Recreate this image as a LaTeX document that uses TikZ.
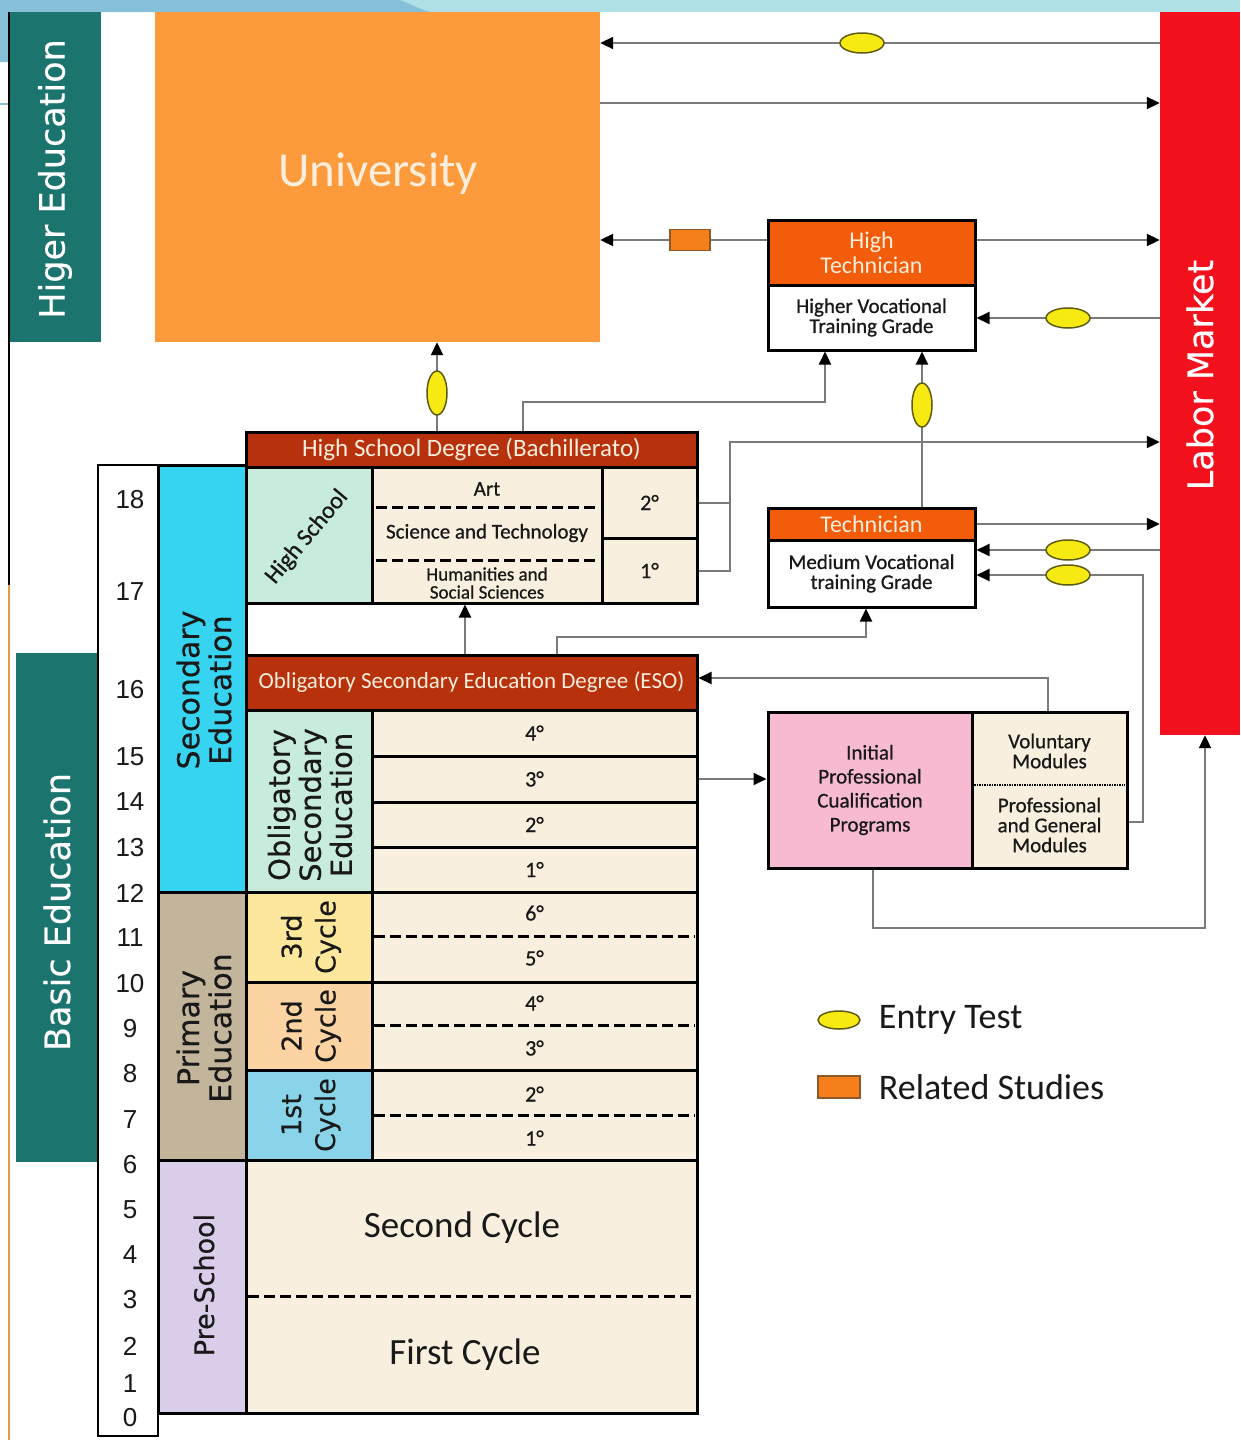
\documentclass[tikz,border=0pt]{standalone}
\usepackage{fontspec}
\setmainfont{Carlito}
\newfontfamily\cellfont[FakeBold=0.8]{Carlito}
\newfontfamily\verdfont[FakeBold=0.4]{DejaVu Sans}
\newfontfamily\agefont{Liberation Sans}
\usetikzlibrary{positioning}
\usetikzlibrary{shapes.geometric}
\usetikzlibrary{arrows.meta}

\definecolor{tealband}{HTML}{1B746D}
\definecolor{uniorange}{HTML}{FD9A3B}
\definecolor{laborred}{HTML}{F4111E}
\definecolor{degreered}{HTML}{B8310D}
\definecolor{techorange}{HTML}{F25C0A}
\definecolor{seccyan}{HTML}{36D4F1}
\definecolor{primtan}{HTML}{C2B59B}
\definecolor{prelilac}{HTML}{DACDEA}
\definecolor{mint}{HTML}{C8ECDC}
\definecolor{cream}{HTML}{F8EFDF}
\definecolor{cycyellow}{HTML}{FDE79C}
\definecolor{cycpeach}{HTML}{FCD3A2}
\definecolor{cycblue}{HTML}{8AD4EA}
\definecolor{ipcppink}{HTML}{F8BAD2}
\definecolor{entryfill}{HTML}{F7EA12}
\definecolor{entryedge}{HTML}{5E5C12}
\definecolor{relfill}{HTML}{F77F1B}
\definecolor{reledge}{HTML}{8A5A2A}
\definecolor{lanegray}{HTML}{7A7A7A}
\definecolor{bandcyan}{HTML}{AEE0E6}
\definecolor{bandblue}{HTML}{86C0D8}
\definecolor{edgeorange}{HTML}{E0A040}
\definecolor{headtext}{HTML}{FBEEDC}

\newcommand{\pxfont}[2]{\fontsize{#1pt}{#2pt}\selectfont}

\tikzset{
	every node/.style = {text=black!90},
	area/.style = {inner sep=0pt},
	box/.style = {area, draw=black, line width=3pt},
	sidetext/.style = {rotate=90, text=white, align=center, font=\verdfont\pxfont{35}{38}},
	coltext/.style = {rotate=90, align=center, font=\verdfont\pxfont{29}{31}},
	headtxt/.style = {text=headtext, align=center, font=\pxfont{24}{25}},
	celltxt/.style = {align=center, font=\cellfont\pxfont{21}{20}},
	grade/.style = {font=\cellfont\pxfont{22}{22}},
	age/.style = {font=\agefont\pxfont{26}{26}},
	conn/.style = {draw=lanegray, line width=2pt, -{Triangle[width=12pt,length=13pt,color=black]}},
	lane/.style = {draw=lanegray, line width=2pt},
	entry/.style = {ellipse, draw=entryedge, line width=1.5pt, fill=entryfill, minimum width=44pt, minimum height=20pt, inner sep=0pt},
	entryup/.style = {entry, minimum width=20pt, minimum height=44pt},
	related/.style = {area, draw=reledge, line width=1.5pt, fill=relfill, minimum width=40pt, minimum height=21pt},
	split/.style = {line width=3pt, dash pattern=on 11pt off 5pt}
}

\begin{document}
\begin{tikzpicture}[x=1pt, y=-1pt]
	\useasboundingbox (0,0) rectangle (1240,1440);
	% slide background
	\fill[white] (0,0) rectangle (1240,1440);
	\fill[bandcyan] (0,0) rectangle (1240,12);
	\fill[bandblue] (0,0) -- (400,0) .. controls (412,5) and (420,9) .. (430,12) -- (10,12) -- (10,62) -- (0,62) -- cycle;
	\draw[bandblue, line width=1.5pt] (0,104) -- (10,104);
	\draw[black, line width=2pt] (9,12) -- (9,585);
	\draw[edgeorange, line width=1.5pt] (9,585) -- (9,1440);

	% side bands
	\node[area, fill=tealband, minimum width=91pt, minimum height=330pt] (higher) at (55.5,177) {};
	\node[sidetext] (higherlbl) at (55,179) {Higer Education};
	\node[area, fill=tealband, minimum width=84pt, minimum height=509pt] (basic) at (58,907.5) {};
	\node[sidetext] (basiclbl) at (57,912) {Basic Education};

	% university and labor market
	\node[area, fill=uniorange, minimum width=445pt, minimum height=330pt] (uni) at (377.5,177) {};
	\node[text=headtext, font=\pxfont{49}{49}] (unilbl) at (378,174) {University};
	\node[area, fill=laborred, minimum width=80pt, minimum height=723pt] (labor) at (1200,373.5) {};
	\node[sidetext] (laborlbl) at (1200,375) {Labor Market};

	% age scale
	\node[box, line width=2.5pt, fill=white, minimum width=60pt, minimum height=971pt] (ages) at (128,950.5) {};
	\node[age] (a18) at (130,500) {18};
	\node[age] (a17) at (130,592) {17};
	\node[age] (a16) at (130,690) {16};
	\node[age] (a15) at (130,757) {15};
	\node[age] (a14) at (130,802) {14};
	\node[age] (a13) at (130,848) {13};
	\node[age] (a12) at (130,893) {12};
	\node[age] (a11) at (130,938) {11};
	\node[age] (a10) at (130,984) {10};
	\node[age] (a9) at (130,1029) {9};
	\node[age] (a8) at (130,1074) {8};
	\node[age] (a7) at (130,1120) {7};
	\node[age] (a6) at (130,1165) {6};
	\node[age] (a5) at (130,1210) {5};
	\node[age] (a4) at (130,1255) {4};
	\node[age] (a3) at (130,1300) {3};
	\node[age] (a2) at (130,1346) {2};
	\node[age] (a1) at (130,1384) {1};
	\node[age] (a0) at (130,1418) {0};

	% stage columns
	\node[box, fill=seccyan, minimum width=88pt, minimum height=427pt] (sec) at (202,678.5) {};
	\node[coltext, font=\verdfont\pxfont{30}{32}] (seclbl) at (204,690) {Secondary\\Education};
	\node[box, fill=primtan, minimum width=88pt, minimum height=268pt] (prim) at (202,1026) {};
	\node[coltext, font=\verdfont\pxfont{30}{32}] (primlbl) at (204,1028) {Primary\\Education};
	\node[box, fill=prelilac, minimum width=88pt, minimum height=253pt] (pre) at (202,1286.5) {};
	\node[coltext, font=\verdfont\pxfont{27}{27}] (prelbl) at (204,1285) {Pre-School};

	% high school
	\node[box, fill=degreered, minimum width=451pt, minimum height=35pt, headtxt, font=\pxfont{25}{25}] (hsdeg) at (471.5,449.5) {High School Degree (Bachillerato)};
	\node[box, fill=mint, minimum width=126pt, minimum height=136pt] (hsmint) at (309,535) {};
	\node[rotate=50, font=\cellfont\pxfont{24}{24}] (hslbl) at (307,537) {High School};
	\node[box, fill=cream, minimum width=230pt, minimum height=136pt] (hstr) at (487,535) {};
	\node[celltxt] (art) at (487,489) {Art};
	\node[celltxt] (scitech) at (487,533) {Science and Technology};
	\node[celltxt, font=\cellfont\pxfont{19}{18}] (humsoc) at (487,583) {Humanities and\\Social Sciences};
	\draw[split] (376,507) -- (598,507);
	\draw[split] (376,560) -- (598,560);
	\node[box, fill=cream, minimum width=95pt, minimum height=71pt, grade] (hs2) at (649.5,502.5) {2°};
	\node[box, fill=cream, minimum width=95pt, minimum height=65pt, grade] (hs1) at (649.5,570.5) {1°};

	% obligatory secondary
	\node[box, fill=degreered, minimum width=451pt, minimum height=55pt, headtxt, font=\pxfont{23}{23}] (esodeg) at (471.5,682.5) {Obligatory Secondary Education Degree (ESO)};
	\node[box, fill=mint, minimum width=126pt, minimum height=182pt] (esomint) at (309,801) {};
	\node[coltext] (esolbl) at (310,805) {Obligatory\\Secondary\\Education};
	\node[box, fill=cream, minimum width=325pt, minimum height=46pt, grade] (eso4) at (534.5,733) {4°};
	\node[box, fill=cream, minimum width=325pt, minimum height=46pt, grade] (eso3) at (534.5,779) {3°};
	\node[box, fill=cream, minimum width=325pt, minimum height=45pt, grade] (eso2) at (534.5,824.5) {2°};
	\node[box, fill=cream, minimum width=325pt, minimum height=45pt, grade] (eso1) at (534.5,869.5) {1°};

	% primary cycles
	\node[box, fill=cycyellow, minimum width=126pt, minimum height=90pt] (cyc3) at (309,937) {};
	\node[coltext, font=\verdfont\pxfont{27}{34}] (cyc3lbl) at (311,937) {3rd\\Cycle};
	\node[box, fill=cream, minimum width=325pt, minimum height=90pt] (gr3) at (534.5,937) {};
	\node[grade] (g6) at (534.5,913) {6°};
	\node[grade] (g5) at (534.5,958) {5°};
	\draw[split] (374,936) -- (695,936);
	\node[box, fill=cycpeach, minimum width=126pt, minimum height=88pt] (cyc2) at (309,1026) {};
	\node[coltext, font=\verdfont\pxfont{27}{34}] (cyc2lbl) at (311,1026) {2nd\\Cycle};
	\node[box, fill=cream, minimum width=325pt, minimum height=88pt] (gr2) at (534.5,1026) {};
	\node[grade] (g4) at (534.5,1003) {4°};
	\node[grade] (g3) at (534.5,1048) {3°};
	\draw[split] (374,1025) -- (695,1025);
	\node[box, fill=cycblue, minimum width=126pt, minimum height=90pt] (cyc1) at (309,1115) {};
	\node[coltext, font=\verdfont\pxfont{27}{34}] (cyc1lbl) at (311,1115) {1st\\Cycle};
	\node[box, fill=cream, minimum width=325pt, minimum height=90pt] (gr1) at (534.5,1115) {};
	\node[grade] (g2) at (534.5,1094) {2°};
	\node[grade] (g1) at (534.5,1138) {1°};
	\draw[split] (374,1115) -- (695,1115);

	% pre-school cycles
	\node[box, fill=cream, minimum width=451pt, minimum height=253pt] (precyc) at (471.5,1286.5) {};
	\node[font=\pxfont{37}{37}] (second) at (462,1228) {Second Cycle};
	\node[font=\pxfont{37}{37}] (first) at (465,1355) {First Cycle};
	\draw[split] (248,1296) -- (695,1296);

	% vocational training
	\node[box, fill=techorange, minimum width=207pt, minimum height=65pt, headtxt] (hthead) at (871.5,252.5) {High\\Technician};
	\node[box, fill=white, minimum width=207pt, minimum height=65pt, celltxt] (htgrade) at (871.5,317.5) {Higher Vocational\\Training Grade};
	\node[box, fill=techorange, minimum width=207pt, minimum height=32pt, headtxt] (techhead) at (871.5,524) {Technician};
	\node[box, fill=white, minimum width=207pt, minimum height=67pt, celltxt] (techgrade) at (871.5,573.5) {Medium Vocational\\training Grade};
	\node[box, fill=ipcppink, minimum width=204pt, minimum height=156pt, celltxt, font=\cellfont\pxfont{21}{24}] (ipcp) at (870,790) {Initial\\Professional\\Cualification\\Programs};
	\node[box, fill=cream, minimum width=155pt, minimum height=156pt] (mods) at (1049.5,790) {};
	\node[celltxt] (volmod) at (1049.5,751) {Voluntary\\Modules};
	\node[celltxt] (profmod) at (1049.5,825) {Professional\\and General\\Modules};
	\draw[densely dotted, line width=1.5pt] (974,785) -- (1125,785);

	% bends and marks
	\coordinate (et1) at (862,43);
	\coordinate (lane2) at (862,103);
	\coordinate (rs1) at (690,240);
	\coordinate (et2) at (1068,318);
	\coordinate (et3) at (437,393);
	\coordinate (bend7a) at (523,402);
	\coordinate (bend7b) at (825,402);
	\coordinate (et4) at (922,405);
	\coordinate (bend9) at (730,442);
	\coordinate (et5) at (1068,550);
	\coordinate (et6) at (1068,575);
	\coordinate (bend12) at (1143,822);
	\coordinate (bend13a) at (557,637);
	\coordinate (bend13b) at (866,637);
	\coordinate (up14) at (465,620);
	\coordinate (bend15) at (1048,678);
	\coordinate (bend17a) at (873,928);
	\coordinate (bend17b) at (1205,928);

	% connectors
	\draw[conn] (labor.west |- et1) -- (uni.east |- et1);
	\draw[conn] (uni.east |- lane2) -- (labor.west |- lane2);
	\draw[conn] (hthead.west |- rs1) -- (uni.east |- rs1);
	\draw[conn] (hthead.east |- rs1) -- (labor.west |- rs1);
	\draw[conn] (labor.west |- et2) -- (htgrade.east |- et2);
	\draw[conn] (hsdeg.north -| et3) -- (uni.south -| et3);
	\draw[conn] (hsdeg.north -| bend7a) -- (bend7a) -- (bend7b) -- (htgrade.south -| bend7b);
	\draw[conn] (techhead.north -| et4) -- (htgrade.south -| et4);
	\draw[lane] (hs2.east) -| (bend9);
	\draw[conn] (hs1.east) -| (bend9) -- (labor.west |- bend9);
	\draw[conn] (techhead.east) -- (labor.west |- techhead.east);
	\draw[conn] (labor.west |- et5) -- (techgrade.east |- et5);
	\draw[conn] (mods.east |- bend12) -- (bend12) |- (techgrade.east |- et6);
	\draw[conn] (esodeg.north -| bend13a) |- (bend13b) -- (techgrade.south -| bend13b);
	\draw[conn] (esodeg.north -| up14) -- (hstr.south -| up14);
	\draw[conn] (mods.north -| bend15) |- (esodeg.east |- bend15);
	\draw[conn] (eso3.east) -- (ipcp.west |- eso3.east);
	\draw[conn] (ipcp.south -| bend17a) |- (bend17b) -- (labor.south -| bend17b);

	% entry tests and related studies
	\node[entry] (test1) at (et1) {};
	\node[entry] (test2) at (et2) {};
	\node[entryup] (test3) at (et3) {};
	\node[entryup] (test4) at (et4) {};
	\node[entry] (test5) at (et5) {};
	\node[entry] (test6) at (et6) {};
	\node[related] (rel1) at (rs1) {};

	% legend
	\node[entry, minimum width=42pt, minimum height=18pt] (legtest) at (839,1020) {};
	\node[right=18pt of legtest, inner sep=0pt, font=\pxfont{36}{36}] (legtesttxt) {Entry Test};
	\node[related, minimum width=42pt, minimum height=22pt] (legrel) at (839,1087) {};
	\node[right=18pt of legrel, inner sep=0pt, font=\pxfont{36}{36}] (legreltxt) {Related Studies};
\end{tikzpicture}
\end{document}
